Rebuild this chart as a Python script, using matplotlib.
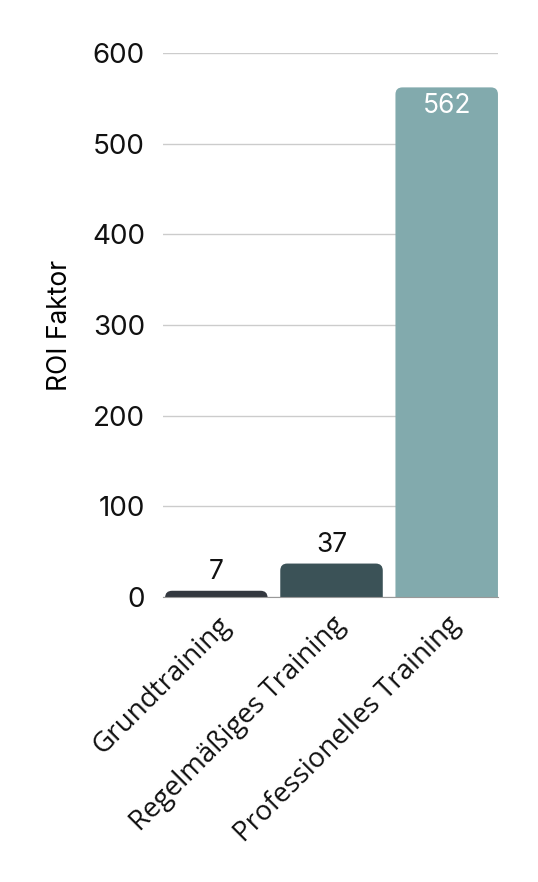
import numpy as np
import matplotlib
matplotlib.use('Agg')
from matplotlib import pyplot as plt
from matplotlib.patches import FancyBboxPatch

# Data
categories = ['Grundtraining', 'Regelmäßiges Training', 'Professionelles Training']
values = [7, 37, 562]
colors = ['#33383f', '#3b5257', '#82aaad']
label_colors = ['#111111', '#111111', '#ffffff']
yticks = [0, 100, 200, 300, 400, 500, 600]

plt.rcParams['font.family'] = ['Inter', 'DejaVu Sans']

fig = plt.figure(figsize=(5.38, 8.82), dpi=100)
ax = fig.add_axes([0.303, 0.323, 0.623, 0.617])

x = np.arange(len(categories))
bars = ax.bar(x, values, width=0.89, color=colors)
ax.set_xlim(-0.463, 2.447)
ax.set_ylim(0, 600)

# swap bars for rounded-top versions
fig.canvas.draw()
x_per_px = 2.91 / ax.bbox.width
y_per_px = 600 / ax.bbox.height
aspect = y_per_px / x_per_px
r = 7 * x_per_px
for b, c in zip(bars, colors):
    b.set_visible(False)
    bx, bw, bh = b.get_x(), b.get_width(), b.get_height()
    p = FancyBboxPatch((bx, -30), bw, bh + 30,
                       boxstyle=f'round,pad=0,rounding_size={r}',
                       mutation_aspect=aspect, facecolor=c, edgecolor='none',
                       zorder=2, clip_on=True)
    ax.add_patch(p)

# value labels
for i, (v, lc) in enumerate(zip(values, label_colors)):
    if v > 100:
        ax.text(i, v - 6, str(v), ha='center', va='top', fontsize=19, color=lc, zorder=3)
    else:
        ax.text(i, v + 6, str(v), ha='center', va='bottom', fontsize=19, color=lc, zorder=3)

ax.set_yticks(yticks)
ax.set_yticklabels([str(t) for t in yticks], fontsize=20)
ax.set_xticks(x)
ax.set_xticklabels(categories, rotation=45, ha='right', rotation_mode='anchor',
                   fontsize=20, family=['Open Sans', 'DejaVu Sans'])
ax.tick_params(axis='both', length=0, colors='#111111')
ax.tick_params(axis='x', pad=10)
ax.tick_params(axis='y', pad=13)
ax.set_ylabel('ROI Faktor', fontsize=19, labelpad=14)

ax.grid(axis='y', color='#cccccc', linewidth=1)
ax.set_axisbelow(True)
for s in ['top', 'right', 'left']:
    ax.spines[s].set_visible(False)
ax.spines['bottom'].set_color('#999999')
ax.spines['bottom'].set_zorder(3)

plt.savefig('out.png', dpi=100)
